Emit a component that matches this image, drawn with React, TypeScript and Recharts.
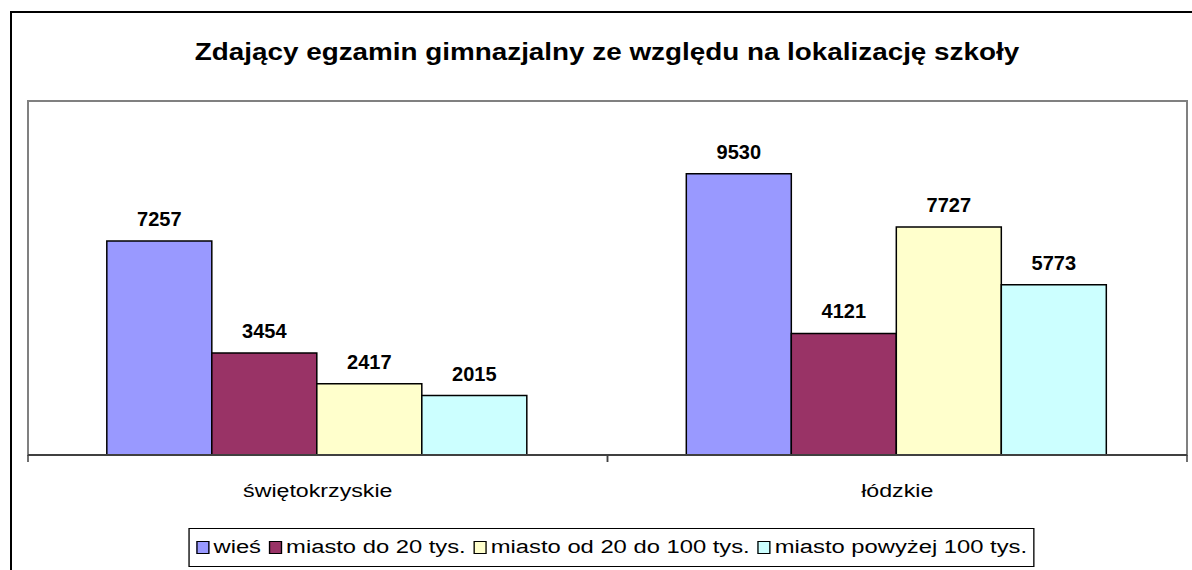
import { BarChart, Bar, XAxis, YAxis, LabelList, Legend, ReferenceArea } from 'recharts';

const regions = ['świętokrzyskie', 'łódzkie'];
const wies = [7257, 9530];
const miastoDo20 = [3454, 4121];
const miasto20do100 = [2417, 7727];
const miastoPowyzej100 = [2015, 5773];

const seriesNames = ['wieś', 'miasto do 20 tys.', 'miasto od 20 do 100 tys.', 'miasto powyżej 100 tys.'];
const seriesColors = ['#9999FF', '#993366', '#FFFFCC', '#CCFFFF'];
const seriesValues = [wies, miastoDo20, miasto20do100, miastoPowyzej100];

const yMax = 12000;

const data = regions.map((region, i) => {
  const row: Record<string, string | number> = { region };
  seriesNames.forEach((name, s) => {
    row[name] = seriesValues[s][i];
  });
  return row;
});

const FONT = 'Arial, "Liberation Sans", sans-serif';

function CategoryTick(props: any) {
  const { x, y, payload } = props;
  const half = payload && typeof payload.offset === 'number' && payload.offset > 0 ? payload.offset : 289.75;
  return (
    <g>
      <line x1={x - half} y1={y} x2={x - half} y2={y + 7} stroke="#404040" strokeWidth={1.5} />
      <line x1={x + half} y1={y} x2={x + half} y2={y + 7} stroke="#404040" strokeWidth={1.5} />
      <text
        transform={`translate(${x},${y + 42}) scale(1.22,1)`}
        textAnchor="middle"
        fontFamily={FONT}
        fontSize={19}
        fill="#000"
      >
        {payload.value}
      </text>
    </g>
  );
}

// legend keeps the series order of the source chart
function LegendBox() {
  return (
    <div style={{ display: 'flex', justifyContent: 'center' }}>
      <div
        style={{
          display: 'flex',
          alignItems: 'center',
          border: '1px solid #000',
          height: 37,
          padding: '0 5px',
          background: '#fff',
          fontFamily: FONT,
          fontSize: 18,
          color: '#000',
          transform: 'scaleX(1.32)',
          transformOrigin: 'center',
        }}
      >
        {seriesNames.map((name, s) => (
          <span key={name} style={{ display: 'flex', alignItems: 'center', marginRight: s < seriesNames.length - 1 ? 6 : 0 }}>
            <span
              style={{
                display: 'inline-block',
                width: 8,
                height: 11,
                background: seriesColors[s],
                border: '1.5px solid #000',
                marginRight: 3,
              }}
            />
            {name}
          </span>
        ))}
      </div>
    </div>
  );
}

export default function App() {
  return (
    <div style={{ position: 'absolute', left: 0, top: 0, width: 1192, height: 570, overflow: 'hidden', background: '#fff' }}>
      <div
        style={{
          position: 'absolute',
          left: 10,
          top: 11,
          width: 1220,
          height: 600,
          border: '2px solid #000',
        }}
      />
      <div
        style={{
          position: 'absolute',
          left: 10,
          top: 39,
          width: 1194,
          textAlign: 'center',
          fontFamily: FONT,
          fontWeight: 'bold',
          fontSize: 23,
          color: '#000',
          transform: 'scaleX(1.21)',
          transformOrigin: '597px 0',
        }}
      >
        Zdający egzamin gimnazjalny ze względu na lokalizację szkoły
      </div>
      <div style={{ position: 'absolute', left: 0, top: 0 }}>
        <BarChart
          width={1192}
          height={570}
          data={data}
          margin={{ top: 101, right: 5, bottom: 55, left: 28 }}
          barGap={0}
          barCategoryGap="13.6%"
        >
          <ReferenceArea y1={0} y2={yMax} fill="none" stroke="#808080" strokeWidth={2} ifOverflow="visible" />
          <XAxis
            dataKey="region"
            height={60}
            axisLine={{ stroke: '#404040', strokeWidth: 2 }}
            tickLine={false}
            tickSize={0}
            tickMargin={0}
            tick={<CategoryTick />}
            interval={0}
          />
          <YAxis
            domain={[0, yMax]}
            width={0}
            axisLine={{ stroke: '#404040', strokeWidth: 2 }}
            tick={false}
            tickLine={false}
          />
          <Legend
            layout="horizontal"
            verticalAlign="middle"
            align="center"
            wrapperStyle={{ top: 528, left: 16, width: 1192 }}
            content={<LegendBox />}
          />
          {seriesNames.map((name, s) => (
            <Bar
              key={name}
              dataKey={name}
              fill={seriesColors[s]}
              stroke="#000"
              strokeWidth={1.5}
              isAnimationActive={false}
            >
              <LabelList
                dataKey={name}
                position="top"
                offset={15}
                fontFamily={FONT}
                fontWeight="bold"
                fontSize={20}
                fill="#000"
              />
            </Bar>
          ))}
        </BarChart>
      </div>
    </div>
  );
}
